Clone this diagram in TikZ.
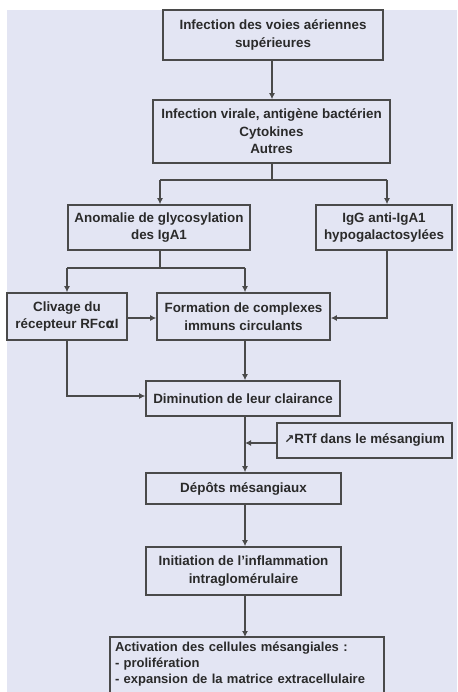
\documentclass[tikz,border=0pt]{standalone}
\usepackage{fontspec}
\setmainfont{Liberation Sans}
\newfontfamily\symfont{DejaVu Sans}
\usetikzlibrary{arrows.meta}
\definecolor{bgc}{HTML}{E3E5F3}
\definecolor{lnc}{HTML}{4A4A4A}
\definecolor{txc}{HTML}{2A2A2A}
\tikzset{
  box/.style={draw=lnc, line width=1.6pt, fill=bgc, inner sep=2pt, align=center, text=txc, font=\fontsize{13.4}{17.5}\selectfont\bfseries},
  conn/.style={draw=lnc, line width=1.5pt, -{Latex[length=6pt,width=6pt]}},
  seg/.style={draw=lnc, line width=1.5pt}
}
\begin{document}
\begin{tikzpicture}[x=1pt,y=-1pt]
\useasboundingbox (0,0) rectangle (457,692);
\fill[white] (0,0) rectangle (457,692);
\fill[bgc] (7,10) rectangle (457,692);
\begin{scope}
\clip (0,0) rectangle (457,692);
\node[box, minimum width=220pt, minimum height=50pt] (b1) at (273,35) {Infection des voies aériennes\\supérieures};
\node[box, minimum width=237pt, minimum height=63pt] (b2) at (271.5,131.5) {Infection virale, antigène bactérien\\Cytokines\\Autres};
\node[box, minimum width=182pt, minimum height=45pt] (b3) at (159,227.5) {Anomalie de glycosylation\\des IgA1};
\node[box, minimum width=136pt, minimum height=45pt] (b4) at (384,227.5) {IgG anti-IgA1\\hypogalactosylées};
\node[box, minimum width=120pt, minimum height=47pt] (b5) at (67,316.5) {Clivage du\\récepteur RFc{\symfont\bfseries α}I};
\node[box, minimum width=173pt, minimum height=47pt] (b6) at (243.5,316.5) {Formation de complexes\\immuns circulants};
\node[box, minimum width=194pt, minimum height=35pt] (b7) at (243,398.5) {Diminution de leur clairance};
\node[box, minimum width=175pt, minimum height=35pt] (bF) at (364.5,440.5) {{\symfont\bfseries\fontsize{12}{12}\selectfont ↗}RTf dans le mésangium};
\node[box, minimum width=195pt, minimum height=31pt] (b8) at (243.5,488.5) {Dépôts mésangiaux};
\node[box, minimum width=195pt, minimum height=48pt] (b9) at (243.5,571) {Initiation de l'inflammation\\intraglomérulaire};
\node[box, draw=none, fill=none, minimum width=272pt, anchor=north, align=left, text width=264pt, inner ysep=4pt, font=\fontsize{13}{16}\selectfont\bfseries] (b10) at (247,637) {Activation des cellules mésangiales :\\- prolifération\\- expansion de la matrice extracellulaire};
\draw[draw=lnc, line width=1.6pt] (b10.north west) rectangle ([yshift=-80pt]b10.north east);
\end{scope}
% junction coordinates
\coordinate (j1) at (272,180);
\coordinate (j1l) at (160,180);
\coordinate (j1r) at (387,180);
\coordinate (j2) at (160,268);
\coordinate (j2l) at (67,268);
\coordinate (j2r) at (245,268);
\coordinate (j3) at (387,318);
\coordinate (j4) at (67,396);
\coordinate (j5) at (245,443);
\draw[conn] (b1.south -| 272,0) -- (b2.north -| 272,0);
\draw[seg] (b2.south -| j1) -- (j1);
\draw[seg] (j1l) -- (j1r);
\draw[conn] (j1l) -- (b3.north -| j1l);
\draw[conn] (j1r) -- (b4.north -| j1r);
\draw[seg] (b3.south -| j2) -- (j2);
\draw[seg] (j2l) -- (j2r);
\draw[conn] (j2l) -- (b5.north -| j2l);
\draw[conn] (j2r) -- (b6.north -| j2r);
\draw[conn] (b5.east |- 0,318) -- (b6.west |- 0,318);
\draw[conn] (b4.south -| j3) -- (j3) -- (b6.east |- j3);
\draw[conn] (b6.south -| j2r) -- (b7.north -| j2r);
\draw[conn] (b5.south -| j4) -- (j4) -- (b7.west |- j4);
\draw[conn] (b7.south -| j2r) -- (b8.north -| j2r);
\draw[conn] (bF.west |- j5) -- (j5);
\draw[conn] (b8.south -| j2r) -- (b9.north -| j2r);
\draw[conn] (b9.south -| j2r) -- (b10.north -| j2r);
\end{tikzpicture}
\end{document}
